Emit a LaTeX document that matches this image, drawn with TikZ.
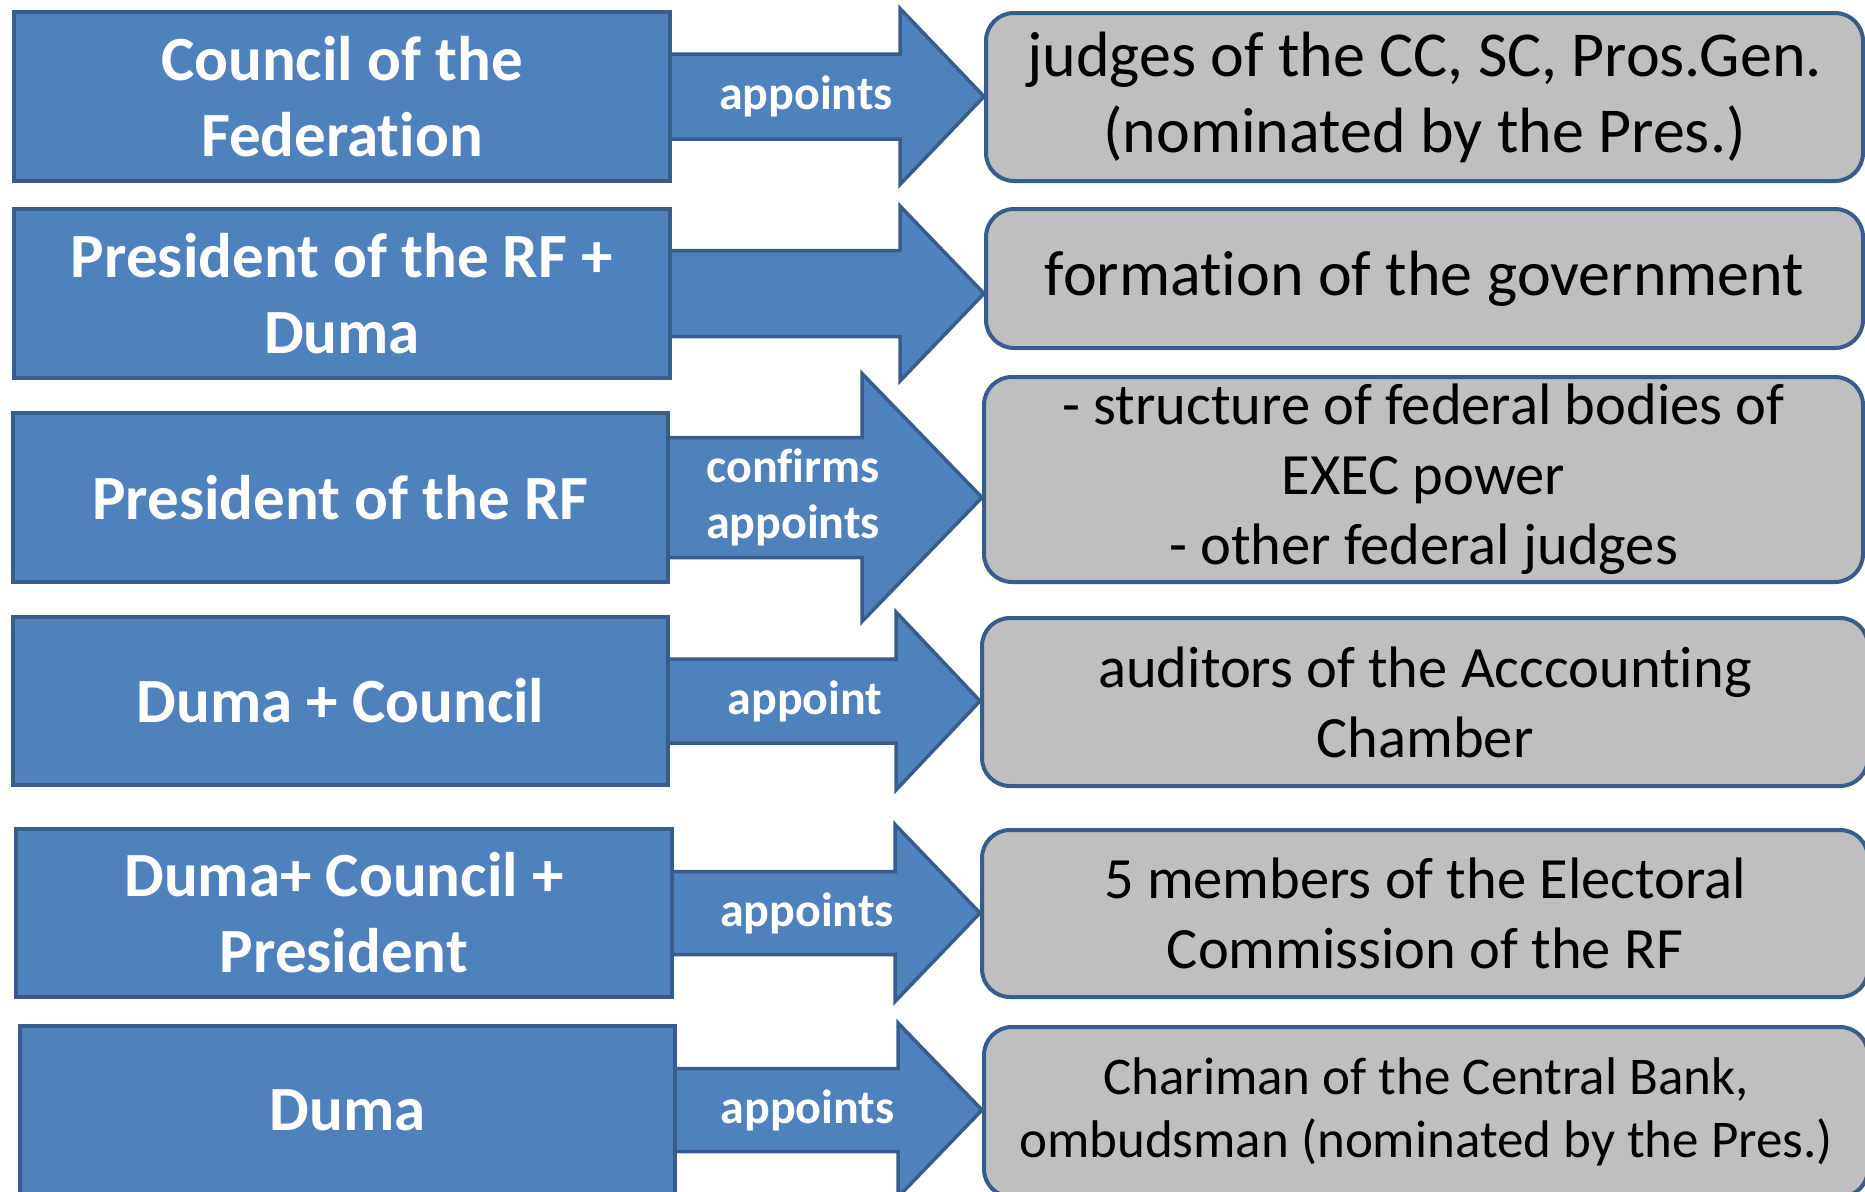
\documentclass[tikz,border=0pt]{standalone}
\usepackage{fontspec}
\setmainfont{Carlito}[Ligatures={NoCommon}]
\usetikzlibrary{calc}
\definecolor{bfill}{HTML}{4F81BD}
\definecolor{bline}{HTML}{385D8A}
\definecolor{gfill}{HTML}{BFBFBF}
\tikzset{
  lbox/.style={draw=bline, fill=bfill, line width=4pt, anchor=north west, inner sep=0pt,
    text=white, align=center, font=\bfseries\fontsize{63}{76}\selectfont},
  rbox/.style={draw=bline, fill=gfill, line width=4pt, rounded corners=28pt, anchor=north west,
    inner sep=0pt, text=black, align=center},
  barrow/.style={draw=bline, fill=bfill, line width=3.5pt, line join=miter},
  alabel/.style={text=white, align=center, inner sep=0pt, font=\bfseries\fontsize{48}{56}\selectfont},
}
\newcommand{\blockarrow}[7]{%
  \coordinate (#1tip) at (#1.east -| #2.west);
  \coordinate (#1base) at ($(#1tip)+(-#3,0)$);
  \draw[barrow] ($(#1.east)+(-2,-#4)$) -- ($(#1base)+(0,-#4)$) -- ($(#1base)+(0,-#5)$)
    -- (#1tip) -- ($(#1base)+(0,#5)$) -- ($(#1base)+(0,#4)$) -- ($(#1.east)+(-2,#4)$) -- cycle;
  \node[alabel] (#1lab) at ($(#1.east)!0.5!(#1tip)+(#6,0)$) {#7};
}
\begin{document}
\begin{tikzpicture}[x=1pt,y=-1pt]
\useasboundingbox (0,0) rectangle (1865,1191);
\clip (0,0) rectangle (1865,1191);
% left boxes
\node[lbox, minimum width=656pt, minimum height=169pt] (L1) at (12,10) {Council of the\\Federation};
\node[lbox, minimum width=656pt, minimum height=169pt] (L2) at (12,207) {President of the RF +\\Duma};
\node[lbox, minimum width=655pt, minimum height=169pt] (L3) at (11,411) {President of the RF};
\node[lbox, minimum width=655pt, minimum height=168pt] (L4) at (11,615) {Duma + Council};
\node[lbox, minimum width=656pt, minimum height=168pt] (L5) at (14,827) {Duma+ Council +\\President};
\node[lbox, minimum width=655pt, minimum height=168pt] (L6) at (18,1024) {Duma};
% right boxes
\node[rbox, minimum width=877pt, minimum height=168pt, font=\fontsize{64}{76}\selectfont] (R1) at (984,11) {judges of the CC, SC, Pros.Gen.\\(nominated by the Pres.)};
\node[rbox, minimum width=877pt, minimum height=139pt, font=\fontsize{64}{76}\selectfont] (R2) at (984,207) {formation of the government};
\node[rbox, minimum width=879pt, minimum height=205pt, font=\fontsize{58.5}{70}\selectfont] (R3) at (982,375) {- structure of federal bodies of\\EXEC power\\- other federal judges};
\node[rbox, minimum width=886pt, minimum height=168pt, font=\fontsize{58.5}{70}\selectfont] (R4) at (980,616) {auditors of the Acccounting\\Chamber};
\node[rbox, minimum width=886pt, minimum height=167pt, font=\fontsize{58.5}{70}\selectfont] (R5) at (980,828) {5 members of the Electoral\\Commission of the RF};
\node[rbox, minimum width=884pt, minimum height=170pt, font=\fontsize{53}{63}\selectfont] (R6) at (982,1025) {Chariman of the Central Bank,\\ombudsman (nominated by the Pres.)};
% block arrows
\blockarrow{L1}{R1}{84}{42.5}{88}{-22}{appoints}
\blockarrow{L2}{R2}{84}{43}{87.5}{-20}{}
\blockarrow{L3}{R3}{120}{60}{124}{-33}{confirms\\appoints}
\blockarrow{L4}{R4}{84}{42}{89}{-20}{appoint}
\blockarrow{L5}{R5}{85}{41.5}{88.5}{-20}{appoints}
\blockarrow{L6}{R6}{84}{41.5}{87}{-22}{appoints}
\end{tikzpicture}
\end{document}
